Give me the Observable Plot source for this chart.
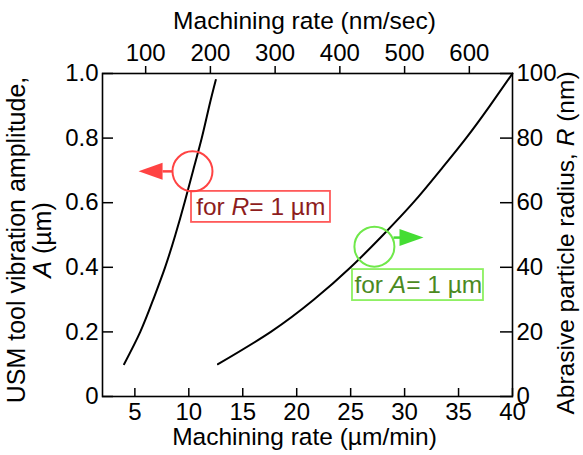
<!DOCTYPE html>
<html><head><meta charset="utf-8">
<script src="https://cdn.jsdelivr.net/npm/d3@7"></script>
<script src="https://cdn.jsdelivr.net/npm/@observablehq/plot@0.6"></script>
<style>
body{margin:0;background:#fff}
svg{font-family:"Liberation Sans",Arial,sans-serif}
</style>
</head><body><div id="chart"></div>
<script>
// Curve 1: tool vibration amplitude A (µm) vs machining rate (µm/min), for R = 1 µm
const ampA  = [0.1, 0.2, 0.3, 0.4, 0.5, 0.6, 0.7, 0.8, 0.9, 0.98];
const rateA = [4.0, 5.5, 6.7, 7.8, 8.75, 9.6, 10.4, 11.2, 11.9, 12.5];
// Curve 2: abrasive particle radius R (nm) vs machining rate (µm/min), for A = 1 µm
const radR  = [10, 20, 30, 40, 50, 60, 70, 80, 90, 100];
const rateR = [12.7, 17.6, 21.6, 25.0, 28.0, 30.8, 33.3, 35.7, 37.9, 40.0];

// Tick labels
const bottomTicks = [5, 10, 15, 20, 25, 30, 35, 40];      // µm/min
const topTicks    = [100, 200, 300, 400, 500, 600];        // nm/sec
const leftTicks   = [0, 0.2, 0.4, 0.6, 0.8, 1.0];          // µm
const rightTicks  = [0, 20, 40, 60, 80, 100];              // nm

// Annotations (data coordinates)
const ringX = [10.34, 27.2];
const ringY = [0.697, 0.464];
const arrowFromX = [8.49, 28.97];
const arrowBaseX = [7.56, 29.6];
const arrowTipX  = [5.34, 31.75];
const arrowY     = [0.697, 0.492];
const boxX1 = [10.25, 25.17], boxX2 = [23.13, 37.31];
const boxY1 = [0.539, 0.297], boxY2 = [0.635, 0.393];
const noteText = ["for *R*= 1 µm", "for *A*= 1 µm"];
const noteX = [10.68, 25.35];
const noteY = [0.587, 0.345];

const RED = "#ff4343", RED_TXT = "#8e1d1d", RED_BOX = "#ff5a5a";
const GREEN = "#44dd33", GREEN_RING = "#6fe84a", GREEN_TXT = "#4b8a1f", GREEN_BOX = "#8cf060";

const nmPerSecPerUmPerMin = 1000 / 60;

const curveA = ampA.map((a, i) => ({rate: rateA[i], y: a}));
const curveR = radR.map((r, i) => ({rate: rateR[i], y: r / 100}));
const idx = [0, 1];

const leftTri  = {draw(ctx) { ctx.moveTo(0, 0); ctx.lineTo(24, -8.5); ctx.lineTo(24, 8.5); ctx.closePath(); }};
const rightTri = {draw(ctx) { ctx.moveTo(0, 0); ctx.lineTo(-24, -8.5); ctx.lineTo(-24, 8.5); ctx.closePath(); }};

const FS = 24;     // tick labels
const TS = 24.5;   // titles and notes

const chart = Plot.plot({
  width: 583, height: 455,
  marginLeft: 102, marginRight: 71, marginTop: 73, marginBottom: 59,
  x: {domain: [2, 40]},
  y: {domain: [0, 1]},
  style: {fontFamily: "'Liberation Sans', Arial, sans-serif", fontSize: FS + "px", color: "black", background: "white"},
  marks: [
    // bottom axis (inward ticks)
    Plot.axisX({anchor: "bottom", ticks: bottomTicks, tickSize: 8, dy: -8, text: null, label: null, strokeWidth: 1.5}),
    Plot.axisX({anchor: "bottom", ticks: bottomTicks, tickSize: 0, tickPadding: 6, label: null, fontSize: FS}),
    // top axis in nm/sec (outward ticks)
    Plot.axisX({anchor: "top", ticks: topTicks.map(v => v / nmPerSecPerUmPerMin), tickFormat: d => Math.round(d * nmPerSecPerUmPerMin),
                tickSize: 8, tickPadding: 5, label: null, strokeWidth: 1.5, fontSize: FS}),
    // left axis (inward ticks)
    Plot.axisY({anchor: "left", ticks: leftTicks, tickSize: 11, dx: 11, text: null, label: null, strokeWidth: 1.5}),
    Plot.axisY({anchor: "left", ticks: leftTicks, tickSize: 0, tickPadding: 4, label: null, fontSize: FS,
                tickFormat: d => d === 0 ? "0" : d.toFixed(1)}),
    // right axis in nm (inward ticks)
    Plot.axisY({anchor: "right", ticks: rightTicks.map(r => r / 100), tickSize: 13, dx: -13, text: null, label: null, strokeWidth: 1.5}),
    Plot.axisY({anchor: "right", ticks: rightTicks.map(r => r / 100), tickSize: 0, tickPadding: 4, label: null, fontSize: FS,
                tickFormat: d => Math.round(d * 100)}),
    Plot.frame({stroke: "black", strokeWidth: 1.6}),
    // axis titles
    Plot.text(["Machining rate (nm/sec)"], {frameAnchor: "top", textAnchor: "middle", lineAnchor: "middle", dy: -52, dx: -3, fontSize: TS}),
    Plot.text(["Machining rate (µm/min)"], {frameAnchor: "bottom", textAnchor: "middle", lineAnchor: "middle", dy: 41, dx: -3, fontSize: TS}),
    Plot.text(["USM tool vibration amplitude,\n*A* (µm)"], {frameAnchor: "left", textAnchor: "middle", lineAnchor: "middle",
                rotate: -90, dx: -72.5, dy: 5, lineHeight: 1.02, fontSize: 25}),
    Plot.text(["Abrasive particle radius, *R* (nm)"], {frameAnchor: "right", textAnchor: "middle", lineAnchor: "middle",
                rotate: -90, dx: 54, dy: 8, fontSize: TS}),
    // curves
    Plot.line(curveA, {x: "rate", y: "y", stroke: "black", strokeWidth: 2, curve: "natural"}),
    Plot.line(curveR, {x: "rate", y: "y", stroke: "black", strokeWidth: 2, curve: "natural"}),
    // annotation boxes
    Plot.rect(idx, {x1: i => boxX1[i], x2: i => boxX2[i], y1: i => boxY1[i], y2: i => boxY2[i],
                    fill: "white", stroke: i => [RED_BOX, GREEN_BOX][i], strokeWidth: 1.8}),
    Plot.text(idx, {x: i => noteX[i], y: i => noteY[i], text: i => noteText[i], textAnchor: "start",
                    fill: i => [RED_TXT, GREEN_TXT][i], fontSize: TS}),
    // rings
    Plot.dot(idx, {x: i => ringX[i], y: i => ringY[i], r: 20, stroke: i => [RED, GREEN_RING][i], strokeWidth: 2, fill: "none"}),
    // arrows
    Plot.link(idx, {x1: i => arrowFromX[i], x2: i => arrowBaseX[i], y1: i => arrowY[i], y2: i => arrowY[i],
                    stroke: i => [RED, GREEN][i], strokeWidth: 2.5}),
    Plot.dot([0], {x: i => arrowTipX[i], y: i => arrowY[i], symbol: leftTri, fill: RED, stroke: "none", r: 8}),
    Plot.dot([1], {x: i => arrowTipX[i], y: i => arrowY[i], symbol: rightTri, fill: GREEN, stroke: "none", r: 8})
  ]
});

function italicize(root) {
  const walker = document.createTreeWalker(root, NodeFilter.SHOW_TEXT);
  const nodes = [];
  while (walker.nextNode()) if (walker.currentNode.nodeValue.includes("*")) nodes.push(walker.currentNode);
  for (const n of nodes) {
    const parts = n.nodeValue.split("*");
    const parent = n.parentNode;
    parts.forEach((p, i) => {
      if (!p) return;
      if (i % 2) {
        const t = document.createElementNS("http://www.w3.org/2000/svg", "tspan");
        t.setAttribute("font-style", "italic");
        t.textContent = p;
        parent.insertBefore(t, n);
      } else parent.insertBefore(document.createTextNode(p), n);
    });
    parent.removeChild(n);
  }
}
italicize(chart);
document.getElementById("chart").appendChild(chart);
</script>
</body></html>
